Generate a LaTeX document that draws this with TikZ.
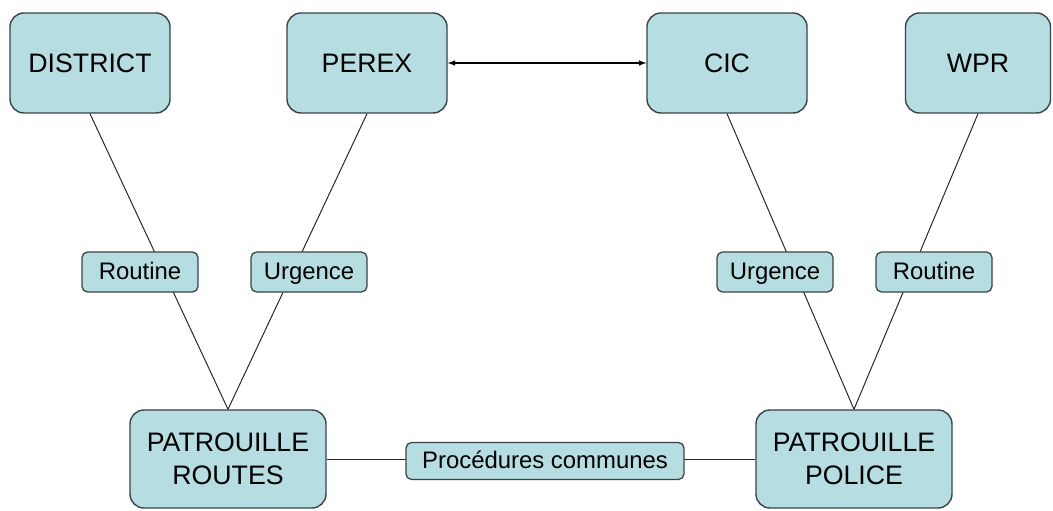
\documentclass[tikz,border=0pt]{standalone}
\usepackage{fontspec}
\setmainfont{Liberation Sans}
\usepackage{xcolor}
\usetikzlibrary{shapes,arrows,positioning,calc}

\definecolor{boxfill}{RGB}{182,221,225}
\definecolor{boxline}{RGB}{60,66,68}

\begin{document}
\begin{tikzpicture}[
    x=0.025cm, y=-0.025cm,
    unit/.style={rectangle, draw=boxline, line width=1pt, fill=boxfill, rounded corners=10pt, minimum width=4cm, minimum height=2.5cm, align=center, font=\fontsize{19}{23.5}\selectfont},
    patrol/.style={unit, minimum width=4.9cm, minimum height=2.45cm},
    tag/.style={rectangle, draw=boxline, line width=0.9pt, fill=boxfill, rounded corners=4pt, minimum width=2.9cm, minimum height=1cm, inner sep=2pt, text height=2.5ex, text depth=0.6ex, font=\fontsize{17}{20}\selectfont},
    link/.style={draw=black!85, line width=0.7pt},
    arrow/.style={<->, >=latex, line width=0.8pt}
]
\useasboundingbox (0,0) rectangle (1053,511);

% Services
\node[unit] (district) at (90,63) {DISTRICT};
\node[unit] (perex) at (367,63) {PEREX};
\node[unit] (cic) at (727,63) {CIC};
\node[unit, minimum width=3.625cm] (wpr) at (978,63) {WPR};

% Patrols
\node[patrol] (routes) at (228,459) {PATROUILLE\\ROUTES};
\node[patrol] (police) at (854,459) {PATROUILLE\\POLICE};

% Links
\draw[arrow] (perex) -- (cic);
\draw[link] (district.south) -- (routes.north);
\draw[link] (perex.south) -- (routes.north);
\draw[link] (cic.south) -- (police.north);
\draw[link] (wpr.south) -- (police.north);
\draw[link] (routes.east) -- (police.west);

% Labels on the links
\node[tag] (routineA) at (140,272) {Routine};
\node[tag] (urgenceA) at (309,272) {Urgence};
\node[tag] (urgenceB) at (775,272) {Urgence};
\node[tag] (routineB) at (934,272) {Routine};
\node[tag, minimum width=6.95cm, minimum height=0.925cm] (communes) at (545,461) {Procédures communes};

\end{tikzpicture}
\end{document}
